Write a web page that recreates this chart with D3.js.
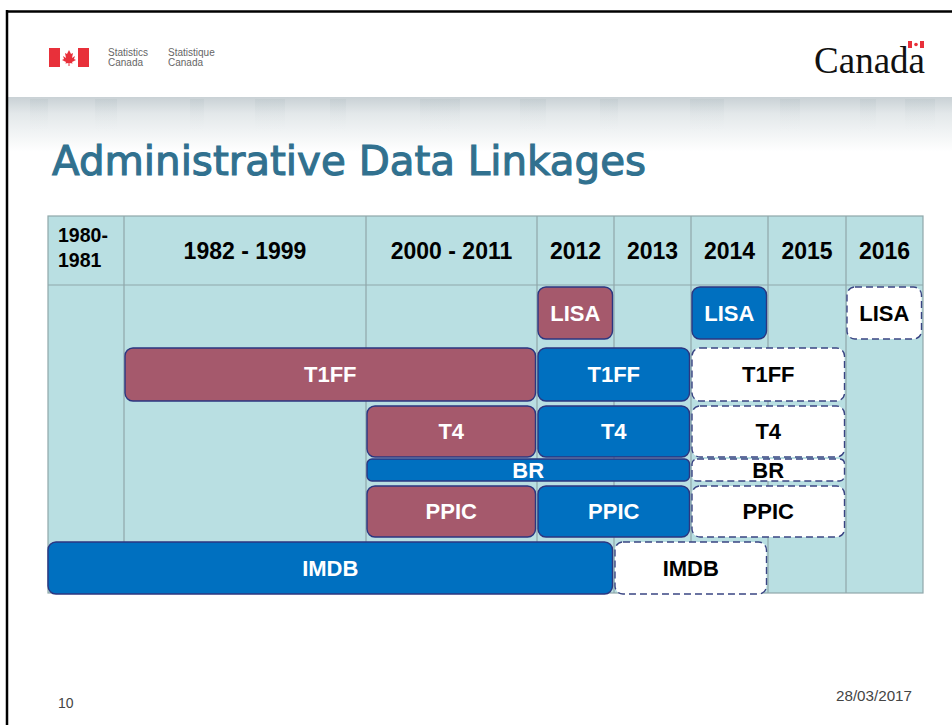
<!DOCTYPE html>
<html>
<head>
<meta charset="utf-8">
<script src="https://cdn.jsdelivr.net/npm/d3@7"></script>
<style>
  body { margin: 0; background: #fff; }
  svg { display: block; }
</style>
</head>
<body>
<div id="chart"></div>
<script>
// Column headers of the timeline ("\n" = line break in the header cell)
const periods = ['1980-\n1981', '1982 - 1999', '2000 - 2011', '2012', '2013', '2014', '2015', '2016'];

// Datasets, top to bottom
const datasets = ['LISA', 'T1FF', 'T4', 'BR', 'PPIC', 'IMDB'];

// Linkage bars: dataset, first and last period covered, status
const linkages = [
  { name: 'LISA', from: '2012', to: '2012', status: 'past' },
  { name: 'LISA', from: '2014', to: '2014', status: 'current' },
  { name: 'LISA', from: '2016', to: '2016', status: 'planned' },
  { name: 'T1FF', from: '1982 - 1999', to: '2000 - 2011', status: 'past' },
  { name: 'T1FF', from: '2012', to: '2013', status: 'current' },
  { name: 'T1FF', from: '2014', to: '2015', status: 'planned' },
  { name: 'T4', from: '2000 - 2011', to: '2000 - 2011', status: 'past' },
  { name: 'T4', from: '2012', to: '2013', status: 'current' },
  { name: 'T4', from: '2014', to: '2015', status: 'planned' },
  { name: 'BR', from: '2000 - 2011', to: '2013', status: 'current' },
  { name: 'BR', from: '2014', to: '2015', status: 'planned' },
  { name: 'PPIC', from: '2000 - 2011', to: '2000 - 2011', status: 'past' },
  { name: 'PPIC', from: '2012', to: '2013', status: 'current' },
  { name: 'PPIC', from: '2014', to: '2015', status: 'planned' },
  { name: 'IMDB', from: '1980-\n1981', to: '2012', status: 'current' },
  { name: 'IMDB', from: '2013', to: '2014', status: 'planned' }
];

const W = 952, H = 725;
const COLORS = {
  past: '#a5596c',
  current: '#0070c0',
  planned: '#ffffff',
  cell: '#b9dfe2',
  grid: '#8fa7aa',
  title: '#31718f'
};

const svg = d3.select('#chart').append('svg')
  .attr('width', W).attr('height', H)
  .style('font-family', '"Liberation Sans", Arial, sans-serif');

const defs = svg.append('defs');
const band = defs.append('linearGradient').attr('id', 'band').attr('x1', 0).attr('y1', 0).attr('x2', 0).attr('y2', 1);
band.append('stop').attr('offset', 0).attr('stop-color', '#c9d1d5');
band.append('stop').attr('offset', 0.3).attr('stop-color', '#e3e8ea');
band.append('stop').attr('offset', 1).attr('stop-color', '#ffffff');
const stripe = defs.append('linearGradient').attr('id', 'stripe').attr('x1', 0).attr('y1', 0).attr('x2', 0).attr('y2', 1);
stripe.append('stop').attr('offset', 0).attr('stop-color', '#a9b8bd').attr('stop-opacity', 0.22);
stripe.append('stop').attr('offset', 1).attr('stop-color', '#ffffff').attr('stop-opacity', 0);

// ---- slide chrome ----
svg.append('rect').attr('x', 7).attr('y', 97).attr('width', W).attr('height', 55).attr('fill', 'url(#band)');
[[30, 18], [95, 22], [190, 14], [255, 30], [330, 16], [420, 40], [520, 26], [600, 18], [690, 34], [780, 20], [860, 16], [905, 30]]
  .forEach(([sx, sw]) => {
    svg.append('rect').attr('x', sx).attr('y', 99).attr('width', sw).attr('height', 40).attr('fill', 'url(#stripe)');
  });
svg.append('line').attr('x1', 7).attr('x2', W).attr('y1', 11.5).attr('y2', 11.5).attr('stroke', '#000').attr('stroke-width', 2.5);
svg.append('line').attr('x1', 7).attr('x2', 7).attr('y1', 10).attr('y2', H).attr('stroke', '#000').attr('stroke-width', 2.5);

// Statistics Canada signature
const sig = svg.append('g');
sig.append('rect').attr('x', 49).attr('y', 48).attr('width', 11).attr('height', 19).attr('fill', '#e8303a');
sig.append('rect').attr('x', 78).attr('y', 48).attr('width', 11).attr('height', 19).attr('fill', '#e8303a');
sig.append('path')
  .attr('d', 'M69 50 L71 54 L73 53 L72 58 L75 56 L74 59 L76 60 L72 62 L72.6 63.5 L69.5 63 L69.5 66 L68.5 66 L68.5 63 L65.4 63.5 L66 62 L62 60 L64 59 L63 56 L66 58 L65 53 L67 54 Z')
  .attr('fill', '#e8303a');
[['Statistics', 108], ['Statistique', 168]].forEach(([t, sx]) => {
  sig.append('text').attr('x', sx).attr('y', 56).attr('font-size', 10).attr('fill', '#666').text(t);
  sig.append('text').attr('x', sx).attr('y', 66).attr('font-size', 10).attr('fill', '#666').text('Canada');
});

// Canada wordmark
svg.append('text').attr('x', 925).attr('y', 73).attr('text-anchor', 'end')
  .attr('font-family', '"Liberation Serif", "Times New Roman", serif')
  .attr('font-size', 37).attr('fill', '#111').text('Canada');
svg.append('rect').attr('x', 908).attr('y', 41).attr('width', 4).attr('height', 7).attr('fill', '#e8303a');
svg.append('rect').attr('x', 920).attr('y', 41).attr('width', 4).attr('height', 7).attr('fill', '#e8303a');
svg.append('circle').attr('cx', 916).attr('cy', 44.5).attr('r', 1.8).attr('fill', '#e8303a');

// Title
svg.append('text').attr('x', 52).attr('y', 175)
  .attr('font-family', '"DejaVu Sans", Verdana, sans-serif')
  .attr('font-size', 40).attr('fill', COLORS.title)
  .attr('stroke', COLORS.title).attr('stroke-width', 1.1)
  .attr('textLength', 594).attr('lengthAdjust', 'spacingAndGlyphs')
  .text('Administrative Data Linkages');

// Footer
svg.append('text').attr('x', 58).attr('y', 708).attr('font-size', 14).attr('fill', '#444').text('10');
svg.append('text').attr('x', 912).attr('y', 701).attr('text-anchor', 'end')
  .attr('font-size', 15).attr('fill', '#444').attr('textLength', 76).attr('lengthAdjust', 'spacingAndGlyphs')
  .text('28/03/2017');

// ---- timeline table ----
// Column boundaries (period index -> pixel)
const x = d3.scaleLinear()
  .domain(d3.range(periods.length + 1))
  .range([48, 124, 366, 537, 614, 691, 768, 846, 923]);
const tableTop = 216, headBottom = 285, tableBottom = 593;

// Row placement per dataset
const yTop = d3.scaleOrdinal().domain(datasets).range([287, 348, 406, 459, 486, 542]);
const rowH = d3.scaleOrdinal().domain(datasets).range([52, 53, 51, 22, 51, 52]);

const table = svg.append('g').attr('class', 'timeline__table');
table.append('rect')
  .attr('x', x(0)).attr('y', tableTop)
  .attr('width', x(periods.length) - x(0)).attr('height', tableBottom - tableTop)
  .attr('fill', COLORS.cell).attr('stroke', COLORS.grid).attr('stroke-width', 1.2);
table.append('line')
  .attr('x1', x(0)).attr('x2', x(periods.length)).attr('y1', headBottom).attr('y2', headBottom)
  .attr('stroke', COLORS.grid).attr('stroke-width', 1.2);
table.selectAll('.timeline__col')
  .data(d3.range(1, periods.length))
  .join('line')
  .attr('class', 'timeline__col')
  .attr('x1', d => x(d)).attr('x2', d => x(d))
  .attr('y1', tableTop).attr('y2', tableBottom)
  .attr('stroke', COLORS.grid).attr('stroke-width', 1.2);

// Header labels
const heads = table.selectAll('.timeline__head')
  .data(periods)
  .join('text')
  .attr('class', 'timeline__head')
  .attr('font-weight', 'bold')
  .attr('fill', '#000');
heads.each(function (d, i) {
  const t = d3.select(this);
  const lines = d.split('\n');
  if (lines.length > 1) {
    t.attr('font-size', 19.5).attr('text-anchor', 'start');
    lines.forEach((ln, k) => {
      t.append('tspan').attr('x', x(i) + 10).attr('y', 242 + k * 25).text(ln);
    });
  } else {
    t.attr('font-size', 23).attr('text-anchor', 'middle')
      .attr('x', (x(i) + x(i + 1)) / 2).attr('y', 259).text(d);
  }
});

// Bars
const col = p => periods.indexOf(p);
const barX0 = d => col(d.from) === 0 ? x(0) : x(col(d.from)) + 1;
const barX1 = d => x(col(d.to) + 1) - 1.5;

const barGroups = svg.append('g').attr('class', 'timeline__bars')
  .selectAll('g')
  .data(linkages)
  .join('g');

barGroups.append('rect')
  .attr('x', d => barX0(d))
  .attr('y', d => yTop(d.name))
  .attr('width', d => barX1(d) - barX0(d))
  .attr('height', d => rowH(d.name))
  .attr('rx', d => rowH(d.name) < 30 ? 5 : 8)
  .attr('fill', d => COLORS[d.status])
  .attr('stroke', d => d.status === 'planned' ? '#3a4583' : '#2b3680')
  .attr('stroke-width', 1.4)
  .attr('stroke-dasharray', d => d.status === 'planned' ? '7,4' : null);

barGroups.append('text')
  .attr('x', d => (barX0(d) + barX1(d)) / 2)
  .attr('y', d => yTop(d.name) + rowH(d.name) / 2)
  .attr('dy', '0.36em')
  .attr('text-anchor', 'middle')
  .attr('font-size', 22)
  .attr('font-weight', 'bold')
  .attr('fill', d => d.status === 'planned' ? '#000' : '#fff')
  .text(d => d.name);
</script>
</body>
</html>
